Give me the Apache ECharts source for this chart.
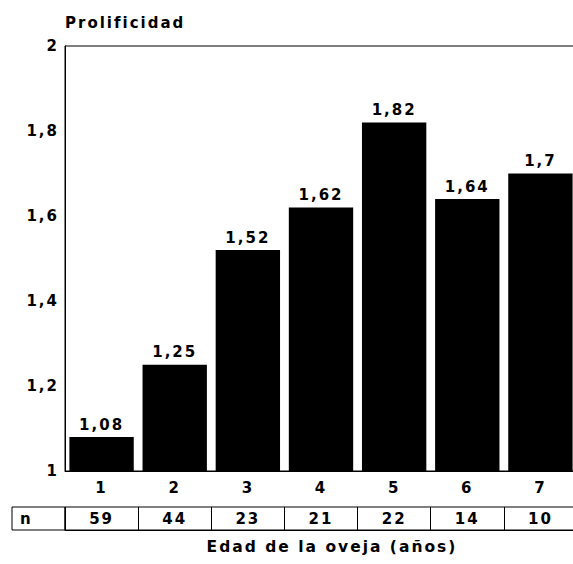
<!DOCTYPE html>
<html>
<head>
<meta charset="utf-8">
<script src="https://cdn.jsdelivr.net/npm/echarts@6/dist/echarts.min.js"></script>
<style>
  html, body { margin: 0; padding: 0; background: #fff; overflow: hidden; }
  #chart { width: 573px; height: 564px; }
  #chart text { letter-spacing: 2px; }
</style>
</head>
<body>
<div id="chart"></div>
<script>
const categories = ['1', '2', '3', '4', '5', '6', '7'];
const prolificidad = [1.08, 1.25, 1.52, 1.62, 1.82, 1.64, 1.7];
const nValues = ['59', '44', '23', '21', '22', '14', '10'];
const yTitle = 'Prolificidad';
const xTitle = 'Edad de la oveja (años)';
const nLabel = 'n';

const FONT = 'DejaVu Sans';
const FS = 15;
const comma = v => String(v).replace('.', ',');

const chart = echarts.init(document.getElementById('chart'), null, { renderer: 'svg' });
chart.setOption({
  backgroundColor: '#fff',
  animation: false,
  textStyle: { fontFamily: FONT, color: '#000' },
  title: [
    { text: yTitle, left: 60, top: 10,
      textStyle: { fontFamily: FONT, fontSize: FS, fontWeight: 'bold', color: '#000' } },
    { text: xTitle, left: 327, top: 534, textAlign: 'center',
      textStyle: { fontFamily: FONT, fontSize: 15.5, fontWeight: 'bold', color: '#000' } }
  ],
  grid: [
    { left: 65, top: 46, width: 512, height: 425, show: true, borderColor: '#000', borderWidth: 1,
      containLabel: false, outerBoundsMode: 'none' },
    { left: 65, top: 507, width: 512, height: 23, show: true, borderColor: '#000', borderWidth: 1,
      containLabel: false, outerBoundsMode: 'none' }
  ],
  xAxis: [
    { type: 'category', gridIndex: 0, data: categories,
      axisLine: { show: true, lineStyle: { color: '#000', width: 1 } },
      axisTick: { show: false },
      splitLine: { show: false },
      axisLabel: { color: '#000', fontFamily: FONT, fontSize: FS, fontWeight: 'bold', margin: 17, verticalAlign: 'middle', interval: 0 } },
    { type: 'category', gridIndex: 1, data: nValues,
      axisLine: { show: true, lineStyle: { color: '#000', width: 1 } },
      axisTick: { show: false },
      splitLine: { show: true, interval: 0, lineStyle: { color: '#000', width: 1 } },
      axisLabel: { color: '#000', fontFamily: FONT, fontSize: FS, fontWeight: 'bold', margin: -11, verticalAlign: 'middle', interval: 0 } }
  ],
  yAxis: [
    { type: 'value', gridIndex: 0, min: 1, max: 2, interval: 0.2,
      axisLine: { show: true, lineStyle: { color: '#000', width: 1 } },
      axisTick: { show: false },
      splitLine: { show: false },
      axisLabel: { color: '#000', fontFamily: FONT, fontSize: FS, fontWeight: 'bold', margin: 6,
        formatter: v => (Math.abs(v - Math.round(v)) < 1e-9 ? String(Math.round(v)) : v.toFixed(1).replace('.', ',')) } },
    { type: 'value', gridIndex: 1, min: 0, max: 1, show: false }
  ],
  graphic: [
    { type: 'rect', shape: { x: 12, y: 507, width: 53, height: 23 },
      style: { fill: 'none', stroke: '#000', lineWidth: 1 } },
    { type: 'text', x: 20, y: 518.5,
      style: { text: nLabel, fill: '#000', font: 'bold 15px "DejaVu Sans"', textVerticalAlign: 'middle' } }
  ],
  series: [
    { type: 'bar', xAxisIndex: 0, yAxisIndex: 0, data: prolificidad,
      barCategoryGap: '12%',
      itemStyle: { color: '#000' },
      label: { show: true, position: 'top', distance: 5, color: '#000', fontFamily: FONT, fontSize: FS, fontWeight: 'bold',
        formatter: p => comma(p.value) } }
  ]
});
</script>
</body>
</html>
